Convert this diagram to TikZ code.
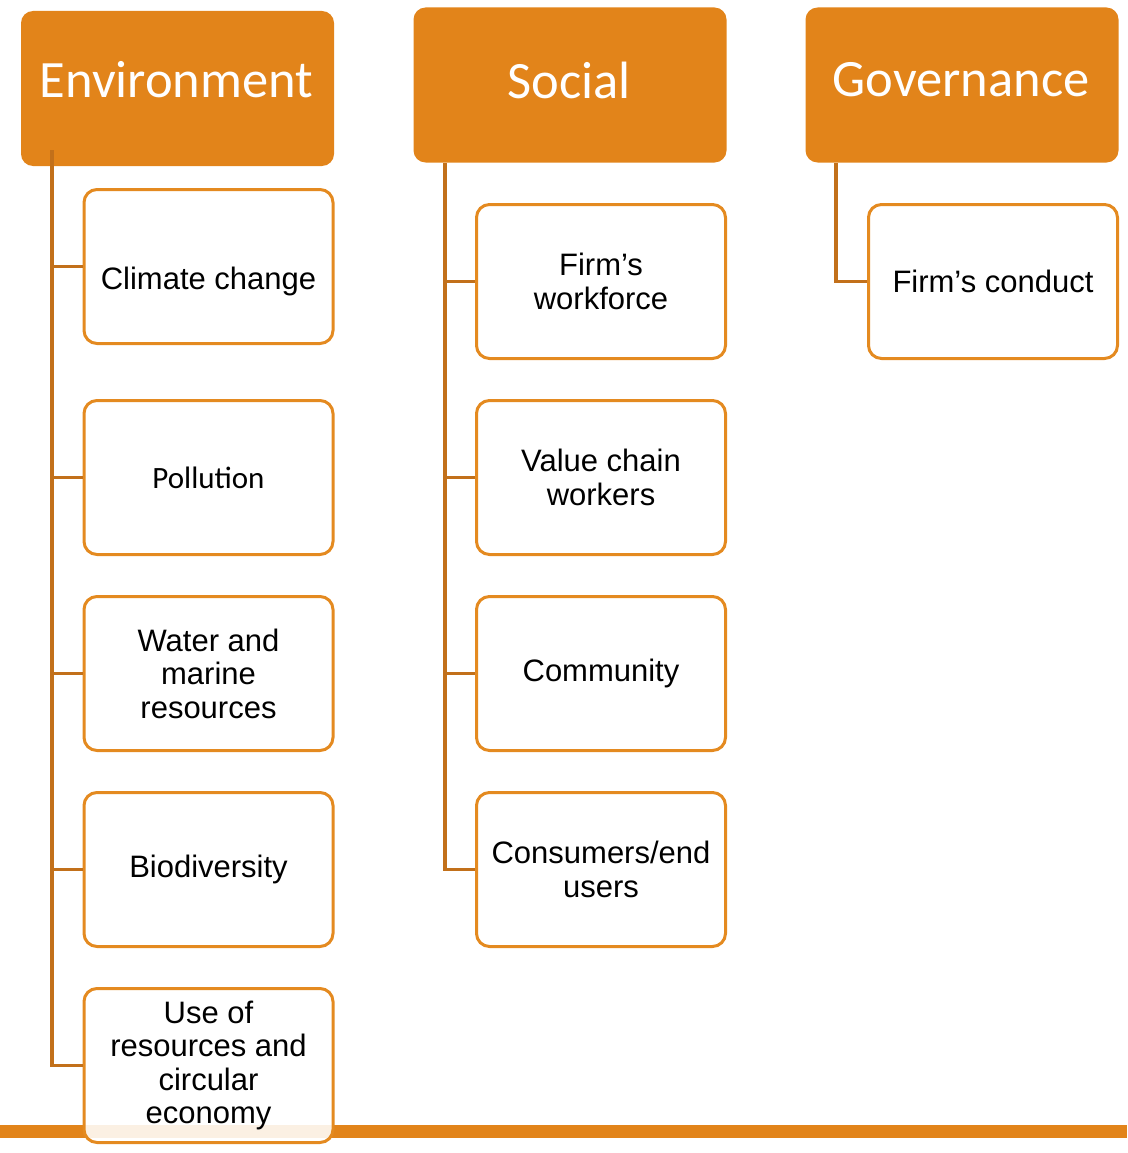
\documentclass[tikz,border=0pt]{standalone}
\usepackage{fontspec}
\setmainfont{Liberation Sans}
\newfontfamily\calib{Carlito}
\definecolor{hdrorange}{HTML}{E2841A}
\definecolor{boxorange}{HTML}{E48A20}
\definecolor{linkorange}{HTML}{C2701A}
\begin{document}
\begin{tikzpicture}[x=1pt,y=-1pt,
  hdr/.style={fill=hdrorange, rounded corners=12pt, minimum width=313pt,
    minimum height=155pt, inner sep=0pt},
  hdrtext/.style={text=white, font=\calib\fontsize{52.5}{58}\selectfont, inner sep=0pt},
  item/.style={draw=boxorange, line width=3pt, fill=white, rounded corners=13pt,
    minimum width=249pt, minimum height=154pt, align=center, inner sep=0pt,
    font=\fontsize{31}{33.5}\selectfont},
  link/.style={draw=linkorange, line width=3.2pt}]
\useasboundingbox (0,0) rectangle (1127,1153);

% category headers
\node[hdr] (env) at (177.5,88.5) {};
\node[hdr] (soc) at (570,85) {};
\node[hdr] (gov) at (962,85) {};
\node[hdrtext] (envt) at (176.5,80) {Environment};
\node[hdrtext] (soct) at (569,80) {Social};
\node[hdrtext] (govt) at (961,80) {Governance};

% bottom rule
\fill[hdrorange] (0,1125) rectangle (1127,1138);

% environment topics
\node[item] (climate) at (208.5,266.5) {\raisebox{-23pt}[0pt][0pt]{Climate change}};
\node[item, font=\calib\fontsize{31}{34}\selectfont] (pollution) at (208.5,477.5) {Pollution};
\node[item] (water) at (208.5,673.5) {Water and\\marine\\resources};
\node[item] (bio) at (208.5,869.5) {Biodiversity};
\node[item, fill opacity=0.88, text opacity=1] (use) at (208.5,1065.5)
  {Use of\\resources and\\circular\\economy};

% social topics
\node[item] (workforce) at (601,281.5) {Firm’s\\workforce};
\node[item] (valuechain) at (601,477.5) {Value chain\\workers};
\node[item] (community) at (601,673.5) {Community};
\node[item] (consumers) at (601,869.5) {Consumers/end\\users};

% governance topics
\node[item] (conduct) at (993,281.5) {Firm’s conduct};

% tree connectors
\coordinate (envs) at (52,150);
\coordinate (socs) at (445,163);
\coordinate (govs) at (836,163);
\draw[link] (envs) |- (use.west);
\foreach \n in {climate,pollution,water,bio}
  \draw[link] (\n.west -| envs) -- (\n.west);
\draw[link] (socs) |- (consumers.west);
\foreach \n in {workforce,valuechain,community}
  \draw[link] (\n.west -| socs) -- (\n.west);
\draw[link] (govs) |- (conduct.west);
\end{tikzpicture}
\end{document}
